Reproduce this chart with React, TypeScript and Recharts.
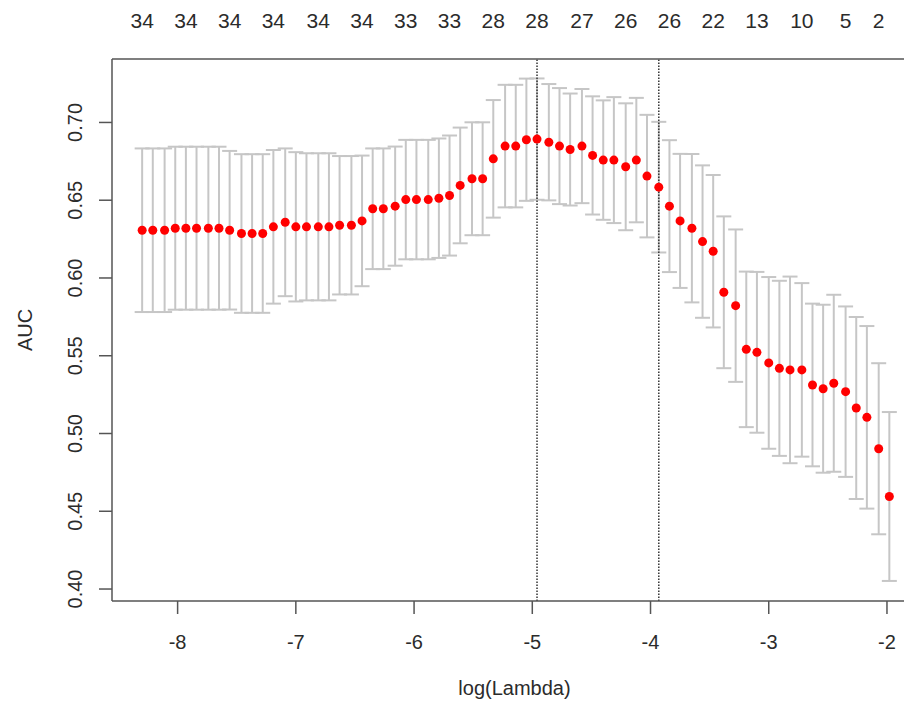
import { ComposedChart, Scatter, ErrorBar, XAxis, YAxis, ReferenceLine, Label } from "recharts";

// log(lambda) path of the cross-validated fit
const logLambda = [
  -8.3, -8.21, -8.11, -8.02, -7.93, -7.84, -7.74, -7.65, -7.56, -7.46,
  -7.37, -7.28, -7.19, -7.09, -7.0, -6.91, -6.81, -6.72, -6.63, -6.53,
  -6.44, -6.35, -6.26, -6.16, -6.07, -5.98, -5.88, -5.79, -5.7, -5.61,
  -5.51, -5.42, -5.33, -5.23, -5.14, -5.05, -4.96, -4.86, -4.77, -4.68,
  -4.58, -4.49, -4.4, -4.31, -4.21, -4.12, -4.03, -3.93, -3.84, -3.75,
  -3.65, -3.56, -3.47, -3.38, -3.28, -3.19, -3.1, -3.0, -2.91, -2.82,
  -2.72, -2.63, -2.54, -2.45, -2.35, -2.26, -2.17, -2.07, -1.98,
];

// mean cross-validated AUC
const cvm = [
  0.6307, 0.6307, 0.6307, 0.632, 0.632, 0.632, 0.632, 0.632, 0.6307, 0.6286,
  0.6286, 0.6286, 0.6329, 0.6358, 0.6329, 0.6329, 0.6329, 0.6329, 0.6339, 0.6339,
  0.6367, 0.6445, 0.6445, 0.6462, 0.6504, 0.6504, 0.6504, 0.6513, 0.653, 0.6595,
  0.6638, 0.6638, 0.6766, 0.6848, 0.6848, 0.6889, 0.6893, 0.6873, 0.6848, 0.6826,
  0.6848, 0.6788, 0.6758, 0.6758, 0.6715, 0.6758, 0.6655, 0.6584, 0.6462, 0.6367,
  0.632, 0.6234, 0.6172, 0.5908, 0.5822, 0.5541, 0.5522, 0.5454, 0.5419, 0.5409,
  0.5409, 0.5312, 0.5288, 0.5323, 0.5269, 0.5164, 0.5104, 0.4902, 0.4595,
];

// standard error of the AUC
const cvsd = [
  0.0526, 0.0526, 0.0526, 0.0524, 0.0524, 0.0524, 0.0524, 0.0524, 0.051, 0.051,
  0.051, 0.051, 0.0494, 0.0475, 0.048, 0.0473, 0.0473, 0.0473, 0.0445, 0.0445,
  0.042, 0.0388, 0.0388, 0.0383, 0.0384, 0.0384, 0.0384, 0.0384, 0.0386, 0.0372,
  0.0363, 0.0363, 0.0378, 0.0394, 0.0394, 0.0393, 0.039, 0.0374, 0.0373, 0.036,
  0.0367, 0.038, 0.0384, 0.0405, 0.0408, 0.04, 0.0394, 0.042, 0.0424, 0.0431,
  0.0477, 0.049, 0.049, 0.0488, 0.049, 0.05, 0.0517, 0.0552, 0.0563, 0.06,
  0.0558, 0.0523, 0.054, 0.0569, 0.0548, 0.0585, 0.0587, 0.055, 0.0543,
];

// number of non-zero coefficients shown along the top
const nzeroAt = [
  -8.3, -7.93, -7.56, -7.19, -6.81, -6.44, -6.07, -5.7, -5.33,
  -4.96, -4.58, -4.21, -3.84, -3.47, -3.1, -2.72, -2.35, -2.07,
];
const nzero = [34, 34, 34, 34, 34, 34, 33, 33, 28, 28, 27, 26, 26, 22, 13, 10, 5, 2];

const lambdaMin = -4.96;
const lambda1se = -3.93;

const xTicks = [-8, -7, -6, -5, -4, -3, -2];
const yTicks = [0.4, 0.45, 0.5, 0.55, 0.6, 0.65, 0.7];

const X_DOMAIN: [number, number] = [-8.555, -1.746];

const data = logLambda.map((x, i) => ({ logLambda: x, auc: cvm[i], sd: cvsd[i] }));

const FONT = "'Liberation Sans', Arial, sans-serif";
const TEXT = "#2b2b2b";
const AXIS = "#555";

const YTick = ({ x, y, payload }: any) => (
  <text
    transform={`translate(${x},${y}) rotate(-90)`}
    textAnchor="middle"
    fill={TEXT}
    fontSize={20}
    fontFamily={FONT}
  >
    {payload.value.toFixed(2)}
  </text>
);

const RedDot = ({ cx, cy }: any) => <circle cx={cx} cy={cy} r={4.5} fill="#ff0000" />;
const NoDot = () => null;

export default function App() {
  return (
    <div style={{ width: 904, height: 699, overflow: "hidden", background: "#fff" }}>
      <ComposedChart
        width={930}
        height={699}
        data={data}
        margin={{ top: 0, right: 21, bottom: 0, left: 0 }}
      >
        <XAxis
          dataKey="logLambda"
          type="number"
          domain={X_DOMAIN}
          allowDataOverflow
          ticks={xTicks}
          interval={0}
          height={106}
          tickSize={13}
          tickMargin={21}
          stroke={AXIS}
          strokeWidth={1.5}
          tick={{ fill: TEXT, fontSize: 20, fontFamily: FONT }}
        >
          <Label
            content={({ viewBox }: any) => (
              <text
                x={viewBox.x + viewBox.width / 2}
                y={viewBox.y + 94}
                textAnchor="middle"
                fill={TEXT}
                fontSize={20}
                fontFamily={FONT}
              >
                log(Lambda)
              </text>
            )}
          />
        </XAxis>
        <XAxis
          xAxisId="top"
          dataKey="logLambda"
          orientation="top"
          type="number"
          domain={X_DOMAIN}
          allowDataOverflow
          ticks={nzeroAt}
          interval={0}
          height={51}
          tickLine={false}
          tickSize={0}
          tickMargin={31}
          stroke={AXIS}
          strokeWidth={1.5}
          tickFormatter={(_v: number, i: number) => String(nzero[i])}
          tick={{ fill: TEXT, fontSize: 21, fontFamily: FONT }}
        />
        <YAxis
          type="number"
          domain={[0.3923, 0.7408]}
          allowDataOverflow
          ticks={yTicks}
          interval={0}
          width={104}
          tickSize={13}
          tickMargin={17}
          stroke={AXIS}
          strokeWidth={1.5}
          tick={<YTick />}
        >
          <Label
            content={({ viewBox }: any) => (
              <text
                transform={`translate(${viewBox.x + 24},${viewBox.y + viewBox.height / 2}) rotate(-90)`}
                textAnchor="middle"
                fill={TEXT}
                fontSize={20}
                fontFamily={FONT}
              >
                AUC
              </text>
            )}
          />
        </YAxis>
        {/* invisible series so the coefficient-count axis gets a scale */}
        <Scatter xAxisId="top" dataKey="auc" shape={<NoDot />} isAnimationActive={false} />
        <Scatter dataKey="auc" shape={<RedDot />} isAnimationActive={false}>
          <ErrorBar
            dataKey="sd"
            direction="y"
            width={7.5}
            stroke="#c6c6c6"
            strokeWidth={2}
            isAnimationActive={false}
          />
        </Scatter>
        <ReferenceLine x={lambdaMin} stroke="#333" strokeWidth={1.5} strokeDasharray="1.5 1.5" />
        <ReferenceLine x={lambda1se} stroke="#333" strokeWidth={1.5} strokeDasharray="1.5 1.5" />
      </ComposedChart>
    </div>
  );
}
